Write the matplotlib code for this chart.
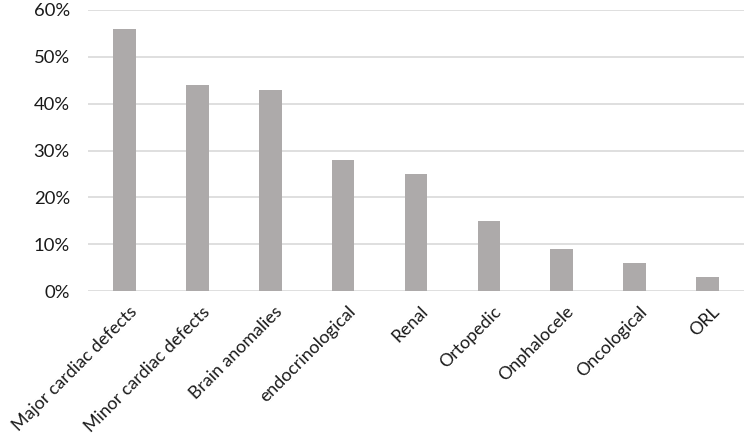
import matplotlib.pyplot as plt
from matplotlib.ticker import PercentFormatter
from matplotlib.transforms import ScaledTranslation

categories = ["Major cardiac defects", "Minor cardiac defects", "Brain anomalies",
              "endocrinological", "Renal", "Ortopedic", "Onphalocele",
              "Oncological", "ORL"]
values = [56, 44, 43, 28, 25, 15, 9, 6, 3]
yticks = [0, 10, 20, 30, 40, 50, 60]

plt.rcParams['font.family'] = ['Lato', 'DejaVu Sans']

fig = plt.figure(figsize=(7.44, 4.38), dpi=100)
ax = fig.add_axes([88/744, 1 - 291/438, 1 - 88/744, (291 - 10)/438])

x = range(len(categories))
ax.bar(x, values, width=0.31, color='#ADAAAA', zorder=2)

ax.set_xlim(-0.5, len(categories) - 0.5)
ax.set_ylim(0, 60)
ax.set_yticks(yticks)
ax.yaxis.set_major_formatter(PercentFormatter(decimals=0))
ax.grid(axis='y', color='#D9D9D9', linewidth=1.2, zorder=0)
ax.set_xticks(list(x))
ax.set_xticklabels(categories, rotation=45, ha='right', rotation_mode='anchor')

for s in ax.spines.values():
    s.set_visible(False)
ax.tick_params(axis='y', length=0, labelsize=13.3, colors='#1a1a1a', pad=13)
ax.tick_params(axis='x', length=0, labelsize=12.8, colors='#1a1a1a', pad=9)

# nudge rotated labels a little to the right, like the original
shift = ScaledTranslation(4/100, 0, fig.dpi_scale_trans)
for lbl in ax.get_xticklabels():
    lbl.set_transform(lbl.get_transform() + shift)

fig.savefig('out.png', dpi=100)
